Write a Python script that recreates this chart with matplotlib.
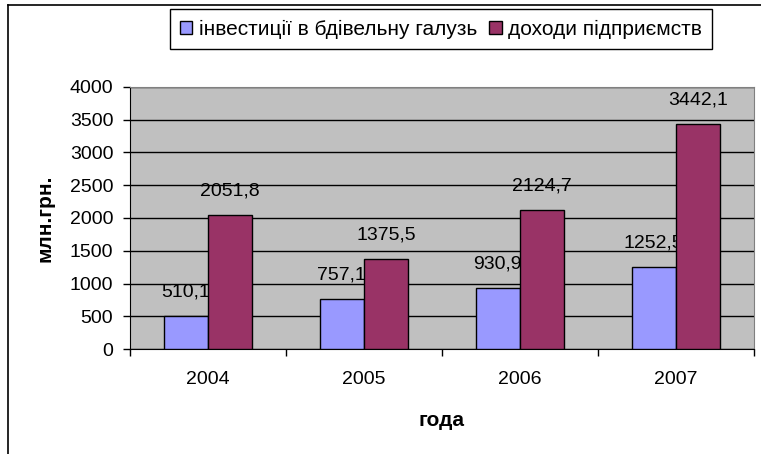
import matplotlib
matplotlib.use('Agg')
import matplotlib.pyplot as plt
from matplotlib.lines import Line2D
import numpy as np

# data
years = ['2004', '2005', '2006', '2007']
investments = [510.1, 757.1, 930.9, 1252.5]
incomes = [2051.8, 1375.5, 2124.7, 3442.1]
series_names = ['інвестиції в бдівельну галузь', 'доходи підприємств']

plt.rcParams['font.family'] = ['Liberation Sans', 'DejaVu Sans']
fs = 14

fig = plt.figure(figsize=(7.61, 4.54), dpi=100)
ax = fig.add_axes([130 / 761, 1 - 349 / 454, 624 / 761, 262 / 454])
ax.set_facecolor('#C0C0C0')

x = np.arange(len(years))
w = 0.285
b1 = ax.bar(x - w / 2, investments, w, color='#9999FF', edgecolor='black', linewidth=1, zorder=3,
            label=series_names[0])
b2 = ax.bar(x + w / 2, incomes, w, color='#993366', edgecolor='black', linewidth=1, zorder=5,
            label=series_names[1])

# value labels, comma decimal; blue ones sit under the maroon bars like in excel
for xi, v in zip(x - w / 2, investments):
    ax.annotate(f'{v:.1f}'.replace('.', ','), (xi, v), xytext=(0, 17.3), textcoords='offset points',
                ha='center', va='center', fontsize=fs, zorder=4)
for xi, v in zip(x + w / 2, incomes):
    ax.annotate(f'{v:.1f}'.replace('.', ','), (xi, v), xytext=(0, 17.3), textcoords='offset points',
                ha='center', va='center', fontsize=fs, zorder=6)

ax.set_xlim(-0.5, len(years) - 0.5)
ax.set_ylim(0, 4000)
ax.set_yticks(np.arange(0, 4001, 500))
ax.yaxis.grid(True, color='black', linewidth=1)
ax.set_axisbelow(True)
ax.tick_params(axis='y', length=5, width=1, labelsize=fs, pad=7)

ax.set_xticks(x)
ax.set_xticklabels(years, fontsize=fs)
ax.tick_params(axis='x', length=0, pad=16)
ax.set_xticks(np.arange(-0.5, len(years)), minor=True)
ax.tick_params(axis='x', which='minor', length=5, width=1)

for s in ['top', 'right']:
    ax.spines[s].set_color('#808080')
for s in ['left', 'bottom']:
    ax.spines[s].set_color('black')

ax.set_ylabel('млн.грн.', fontsize=15, fontweight='bold', va='center')
ax.yaxis.set_label_coords((45.5 - 130) / 624, 0.5)
ax.set_xlabel('года', fontsize=15, fontweight='bold', va='center')
ax.xaxis.set_label_coords(0.5, (349 - 420) / 262)

leg = fig.legend(handles=[b1, b2], loc='center', bbox_to_anchor=(441 / 761, 1 - 29 / 454), ncol=2,
                 fontsize=15, frameon=True, fancybox=False, edgecolor='black', framealpha=1,
                 handlelength=0.6, handleheight=0.6, handletextpad=0.3, columnspacing=0.6,
                 borderpad=0.5, borderaxespad=0)
leg.get_frame().set_linewidth(1)

# outer chart border (only left and top visible in the crop)
fig.add_artist(Line2D([8 / 761, 8 / 761], [0, 1 - 5 / 454], color='black', linewidth=1.2,
                      transform=fig.transFigure))
fig.add_artist(Line2D([8 / 761, 1], [1 - 5 / 454, 1 - 5 / 454], color='black', linewidth=1.2,
                      transform=fig.transFigure))

fig.savefig('out.png', dpi=100)
